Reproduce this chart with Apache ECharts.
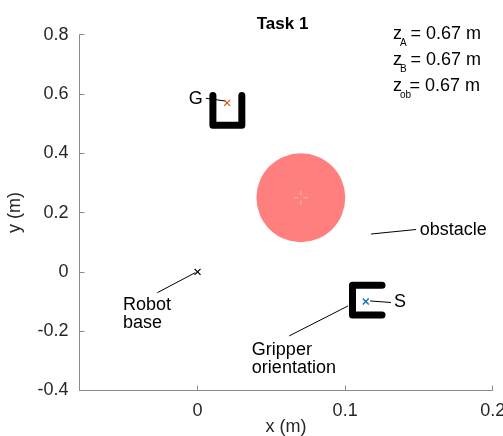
<!DOCTYPE html>
<html>
<head>
<meta charset="utf-8">
<script src="https://cdn.jsdelivr.net/npm/echarts@6/dist/echarts.min.js"></script>
<style>
  html, body { margin: 0; padding: 0; background: #fff; }
  #chart { width: 503px; height: 436px; }
</style>
</head>
<body>
<div id="chart"></div>
<script>
// ---- Workspace data (metres) ----
const xTicks = [0, 0.1, 0.2];
const yTicks = [-0.4, -0.2, 0, 0.2, 0.4, 0.6, 0.8];
const robotBase = [0, 0];
const goalPoint = [0.02, 0.57];      // G
const startPoint = [0.114, -0.10];   // S
const goalGripper = [[0.0104, 0.595], [0.0104, 0.495], [0.0300, 0.495], [0.0300, 0.595]];
const startGripper = [[0.125, -0.045], [0.105, -0.045], [0.105, -0.145], [0.125, -0.145]];
const obstacleCenter = [0.07, 0.25];
const obstacleRadius = 0.0301;
const heightLabels = ['A', 'B', 'ob'];
const heightValues = [0.67, 0.67, 0.67];

// ---- Annotation callouts (data coordinates) ----
const leaders = [
  [[0.0057, 0.5855], [0.0188, 0.5764]],
  [[-0.0273, -0.0702], [-0.0016, -0.0027]],
  [[0.0621, -0.2159], [0.1020, -0.1147]],
  [[0.1169, -0.0980], [0.1311, -0.1032]],
  [[0.1176, 0.1278], [0.1481, 0.1430]]
];
const labels = [
  { text: 'G', at: [0.0035, 0.583], align: 'right' },
  { text: 'Robot\nbase', at: [-0.0505, -0.1415], align: 'left' },
  { text: 'Gripper\norientation', at: [0.0368, -0.2934], align: 'left' },
  { text: 'S', at: [0.1332, -0.1015], align: 'left' },
  { text: 'obstacle', at: [0.1505, 0.1413], align: 'left' }
];

const FONT = '"Liberation Sans", Arial, Helvetica, sans-serif';
const AXIS_GREY = '#8a8a8a';
const TEXT_DARK = '#262626';

const chart = echarts.init(document.getElementById('chart'), null, { renderer: 'canvas' });

const crosses = [
  { at: robotBase, color: '#000000' },
  { at: goalPoint, color: '#D95319' },
  { at: startPoint, color: '#0072BD' }
];

const series = [];

// obstacle disc with its centre mark
series.push({
  type: 'custom',
  coordinateSystem: 'cartesian2d',
  data: [obstacleCenter],
  z: 1,
  renderItem: function (params, api) {
    const c = api.coord([api.value(0), api.value(1)]);
    const r = api.size([obstacleRadius, 0])[0];
    const plus = [];
    const a = 2.5, b = 7;
    [[1, 0], [-1, 0], [0, 1], [0, -1]].forEach(function (d) {
      plus.push({
        type: 'line',
        shape: { x1: c[0] + d[0] * a, y1: c[1] + d[1] * a, x2: c[0] + d[0] * b, y2: c[1] + d[1] * b },
        style: { stroke: '#ffb6b6', lineWidth: 1 }
      });
    });
    return {
      type: 'group',
      children: [{ type: 'circle', shape: { cx: c[0], cy: c[1], r: r }, style: { fill: '#ff7f7f' } }].concat(plus)
    };
  }
});

// gripper outlines
[goalGripper, startGripper].forEach(function (pts) {
  series.push({
    type: 'line',
    data: pts,
    showSymbol: false,
    symbol: 'none',
    silent: true,
    z: 3,
    lineStyle: { color: '#000', width: 7, cap: 'round', join: 'round' }
  });
});

// callout leader lines
leaders.forEach(function (seg) {
  series.push({
    type: 'line',
    data: seg,
    showSymbol: false,
    symbol: 'none',
    silent: true,
    z: 4,
    lineStyle: { color: '#000', width: 1 }
  });
});

// point markers (x)
series.push({
  type: 'custom',
  coordinateSystem: 'cartesian2d',
  data: crosses.map(function (c) { return c.at; }),
  z: 5,
  renderItem: function (params, api) {
    const p = api.coord([api.value(0), api.value(1)]);
    const col = crosses[params.dataIndex].color;
    const s = 3;
    return {
      type: 'group',
      children: [
        { type: 'line', shape: { x1: p[0] - s, y1: p[1] - s, x2: p[0] + s, y2: p[1] + s }, style: { stroke: col, lineWidth: 1.3 } },
        { type: 'line', shape: { x1: p[0] - s, y1: p[1] + s, x2: p[0] + s, y2: p[1] - s }, style: { stroke: col, lineWidth: 1.3 } }
      ]
    };
  }
});

// callout text
series.push({
  type: 'custom',
  coordinateSystem: 'cartesian2d',
  data: labels.map(function (l) { return l.at; }),
  z: 6,
  renderItem: function (params, api) {
    const p = api.coord([api.value(0), api.value(1)]);
    const l = labels[params.dataIndex];
    return {
      type: 'text',
      x: p[0],
      y: p[1],
      style: {
        text: l.text,
        align: l.align,
        verticalAlign: 'middle',
        font: '18px ' + FONT,
        lineHeight: 18,
        fill: '#000'
      }
    };
  }
});

// height annotations, top right
const graphic = [];
heightLabels.forEach(function (sub, i) {
  const y = 35.5 + 25.8 * i;
  const eqX = sub === 'ob' ? 409.5 : 410.5;
  graphic.push({ type: 'text', left: 393, top: y - 10, style: { text: 'z', font: '18px ' + FONT, fill: '#000' } });
  graphic.push({ type: 'text', left: 400, top: y + 3, style: { text: sub, font: '10px ' + FONT, fill: '#000' } });
  graphic.push({ type: 'text', left: eqX, top: y - 10, style: { text: '= ' + heightValues[i].toFixed(2) + ' m', font: '18px ' + FONT, fill: '#000' } });
});

const option = {
  animation: false,
  backgroundColor: '#fff',
  title: {
    text: 'Task 1',
    left: 277.5,
    textAlign: 'center',
    top: 11,
    textStyle: { fontFamily: FONT, fontSize: 17, fontWeight: 'bold', color: '#000' }
  },
  grid: { left: 79.5, right: 10.3, top: 34.7, bottom: 45.5, containLabel: false, outerBoundsMode: 'none' },
  xAxis: {
    type: 'value',
    min: -0.08,
    max: 0.2,
    name: 'x (m)',
    nameLocation: 'middle',
    nameGap: 28,
    nameMoveOverlap: false,
    nameTextStyle: { fontFamily: FONT, fontSize: 18, color: TEXT_DARK },
    axisLine: { show: true, onZero: false, lineStyle: { color: AXIS_GREY, width: 1 } },
    axisTick: { show: true, inside: true, length: 5, customValues: xTicks, lineStyle: { color: AXIS_GREY } },
    axisLabel: {
      customValues: xTicks,
      margin: 12,
      fontFamily: FONT, fontSize: 18, color: TEXT_DARK,
      formatter: function (v) { return String(+(+v).toFixed(2)); }
    },
    splitLine: { show: false }
  },
  yAxis: {
    type: 'value',
    min: yTicks[0],
    max: yTicks[yTicks.length - 1],
    interval: 0.2,
    name: 'y (m)',
    nameLocation: 'middle',
    nameGap: 55,
    nameMoveOverlap: false,
    nameRotate: 90,
    nameTextStyle: { fontFamily: FONT, fontSize: 18, color: TEXT_DARK },
    axisLine: { show: true, onZero: false, lineStyle: { color: AXIS_GREY, width: 1 } },
    axisTick: { show: true, inside: true, length: 5, lineStyle: { color: AXIS_GREY } },
    axisLabel: {
      margin: 11,
      fontFamily: FONT, fontSize: 18, color: TEXT_DARK,
      formatter: function (v) { return String(+(+v).toFixed(1)); }
    },
    splitLine: { show: false }
  },
  graphic: graphic,
  series: series
};

chart.setOption(option);
</script>
</body>
</html>
